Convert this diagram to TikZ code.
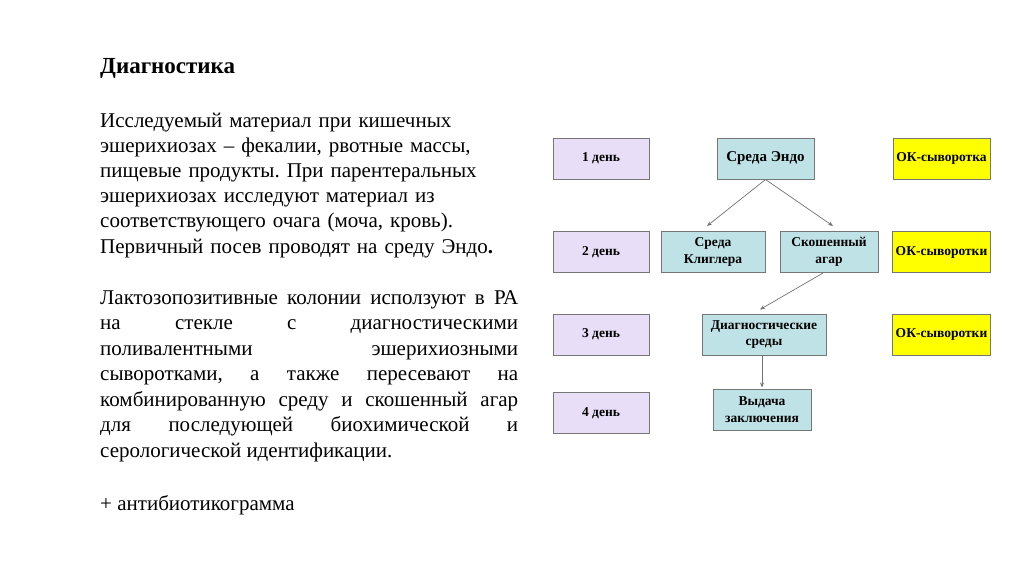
\documentclass[tikz,border=0pt]{standalone}
\usepackage{fontspec}
\setmainfont{Liberation Serif}
\usetikzlibrary{arrows.meta}
\frenchspacing

\definecolor{dayfill}{RGB}{232,222,248}
\definecolor{mediumfill}{RGB}{190,226,229}
\definecolor{serumfill}{RGB}{255,255,0}
\definecolor{boxline}{RGB}{118,118,118}

\tikzset{
	daybox/.style={draw=boxline, fill=dayfill, line width=1pt, minimum width=96pt, minimum height=41pt, font=\fontsize{13.5}{16.5}\selectfont\bfseries, align=center},
	mediumbox/.style={draw=boxline, fill=mediumfill, line width=1pt, minimum height=41pt, font=\fontsize{13.5}{16.5}\selectfont\bfseries, align=center, inner xsep=2pt},
	serumbox/.style={draw=boxline, fill=serumfill, line width=1pt, minimum width=97pt, minimum height=41pt, font=\fontsize{13.5}{16.5}\selectfont\bfseries, align=center},
	flow/.style={draw=black!55, line width=0.7pt, -{Stealth[length=5pt,width=4pt]}},
	bodytext/.style={anchor=north west, inner sep=0pt, font=\fontsize{21}{25.5}\selectfont}
}

\begin{document}
\begin{tikzpicture}[x=1pt, y=-1pt]
		%%%%% START %%%%%
		
		\useasboundingbox[fill=white] (0, 0) rectangle (1024, 576);
		
		% text on the left
		\node[bodytext, font=\fontsize{23}{27}\selectfont\bfseries] (title) at (100, 58) {Диагностика};
		
		\node[bodytext, text width=430pt, align=left, font=\fontsize{21}{25.1}\selectfont] (material) at (100, 113) {Исследуемый материал при кишечных\\
			эшерихиозах -- фекалии, рвотные массы,\\
			пищевые продукты. При парентеральных\\
			эшерихиозах исследуют материал из\\
			соответствующего очага (моча, кровь).\\
			Первичный посев проводят на среду Эндо\textbf{.}};
		
		\node[bodytext, text width=418pt, align=justify] (colonies) at (100, 290) {Лактозопозитивные колонии исползуют в РА\linebreak
			на стекле с диагностическими\linebreak
			поливалентными эшерихиозными\linebreak
			сыворотками, а также пересевают на\linebreak
			комбинированную среду и скошенный агар\linebreak
			для последующей биохимической и\linebreak
			серологической идентификации.};
		
		\node[bodytext] (antibio) at (100, 495) {+ антибиотикограмма};
		
		% days
		\node[daybox] (day1) at (601, 158.5) {1 день};
		\node[daybox] (day2) at (601, 252) {2 день};
		\node[daybox] (day3) at (601, 334.5) {3 день};
		\node[daybox] (day4) at (601, 413) {4 день};
		
		% media
		\node[mediumbox, minimum width=97pt, font=\fontsize{15}{17}\selectfont\bfseries] (endo) at (765.5, 158.5) {Среда Эндо};
		\node[mediumbox, minimum width=104pt] (kligler) at (713, 252) {Среда\\Клиглера};
		\node[mediumbox, minimum width=98pt] (slant) at (829, 252) {Скошенный\\агар};
		\node[mediumbox, minimum width=124pt] (diag) at (764, 334.5) {Диагностические\\среды};
		\node[mediumbox, minimum width=98pt] (result) at (762, 409.5) {Выдача\\заключения};
		
		% sera
		\node[serumbox] (serum1) at (941.5, 158.5) {ОК-сыворотка};
		\node[serumbox] (serum2) at (941.5, 252) {ОК-сыворотки};
		\node[serumbox] (serum3) at (941.5, 334.5) {ОК-сыворотки};
		
		% arrows
		\draw[flow] (endo.south) -- ([xshift=-6pt, yshift=5pt]kligler.north);
		\draw[flow] (endo.south) -- ([xshift=4pt, yshift=5pt]slant.north);
		\draw[flow] ([xshift=-6pt]slant.south) -- ([xshift=-4pt, yshift=4pt]diag.north);
		\draw[flow] ([xshift=-2pt]diag.south) -- ([yshift=1pt]result.north);
		
		%%%%% END %%%%%
	\end{tikzpicture}
\end{document}
